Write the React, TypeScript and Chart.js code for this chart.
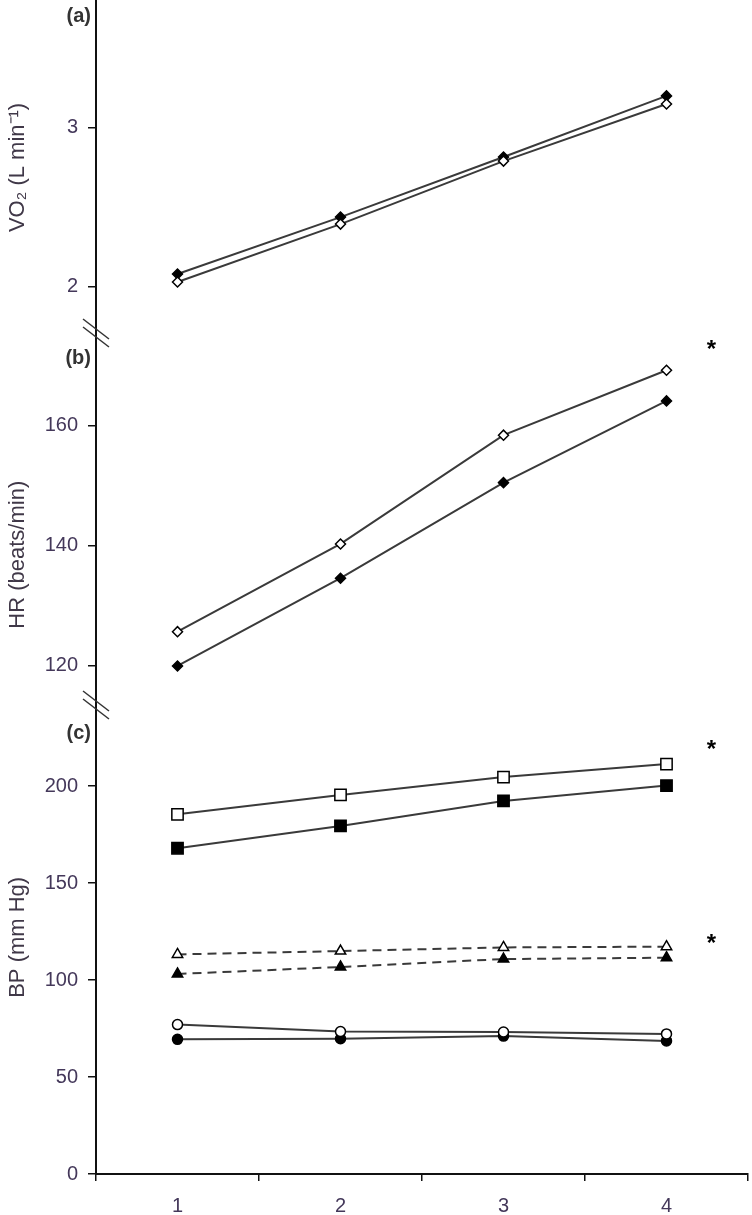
import React, { useEffect, useRef } from 'react';
import { Chart, registerables } from 'chart.js';

Chart.register(...registerables);

// ---- data ----
const stages = ['1', '2', '3', '4'];

const vo2Filled = [2.08, 2.438, 2.816, 3.2];
const vo2Open = [2.03, 2.394, 2.79, 3.149];

const hrFilled = [120, 134.6, 150.5, 164.1];
const hrOpen = [125.7, 140.3, 158.4, 169.2];

const sbpFilled = [167.9, 179.4, 192.3, 200.2];
const sbpOpen = [185.4, 195.4, 204.6, 211.3];
const mapFilled = [103.1, 106.7, 110.8, 111.5];
const mapOpen = [113.2, 114.9, 116.8, 117.2];
const dbpFilled = [69.4, 69.7, 71.1, 68.6];
const dbpOpen = [77.0, 73.4, 73.2, 72.2];

const vo2Ticks = [2, 3];
const hrTicks = [120, 140, 160];
const bpTicks = [0, 50, 100, 150, 200];

const vo2Range = [1.709, 3.803];
const hrRange = [113.5, 175.4];
const bpRange = [0, 241.75];

const panelLabels = ['(a)', '(b)', '(c)'];
const axisTitles = ['VO\u2082 (L min\u207B\u00B9)', 'HR (beats/min)', 'BP (mm Hg)'];
const axisTitleCenters = [2.75, 138.5, 122];
const starMarks = [
  { axis: 'yb', value: 173.8 },
  { axis: 'yc', value: 222 },
  { axis: 'yc', value: 122.3 },
];

const FONT = '"Liberation Sans", Arial, sans-serif';
const TICK_COLOR = '#44385a';
const TITLE_COLOR = '#403848';
const LINE_COLOR = '#3a3a3a';

function ds(label: string, data: number[], axis: string, style: string, radius: number, filled: boolean, dash: number[] = []) {
  return {
    label,
    data,
    yAxisID: axis,
    borderColor: LINE_COLOR,
    borderWidth: 2,
    borderDash: dash,
    tension: 0,
    fill: false,
    clip: false,
    pointStyle: style,
    pointRadius: radius,
    pointHoverRadius: radius,
    pointBackgroundColor: filled ? '#000' : '#fff',
    pointBorderColor: '#000',
    pointBorderWidth: 1.5,
  };
}

function yScale(range: number[], ticks: number[], weight: number) {
  return {
    type: 'linear',
    position: 'left',
    stack: 'panels',
    stackWeight: weight,
    min: range[0],
    max: range[1],
    border: { display: true, color: '#111', width: 2 },
    grid: { display: true, drawOnChartArea: false, drawTicks: true, tickLength: 8, color: '#111', lineWidth: 1.5 },
    ticks: { color: TICK_COLOR, font: { family: FONT, size: 20 }, padding: 10 },
    afterBuildTicks: (s: any) => {
      s.ticks = ticks.map((v) => ({ value: v }));
    },
    afterFit: (s: any) => {
      s.width = 96;
      s.paddingTop = 0;
      s.paddingBottom = 0;
    },
  };
}

const overlayPlugin = {
  id: 'overlay',
  afterDraw(chart: any) {
    const ctx = chart.ctx;
    const { x, ya, yb, yc } = chart.scales;
    const left = chart.chartArea.left;
    ctx.save();

    // axis break marks
    ctx.strokeStyle = '#333';
    ctx.lineWidth = 1.5;
    [yb.top, yc.top].forEach((yy: number) => {
      [-4, 4].forEach((d) => {
        ctx.beginPath();
        ctx.moveTo(left - 13, yy + d - 10);
        ctx.lineTo(left + 13, yy + d + 10);
        ctx.stroke();
      });
    });

    // panel labels
    ctx.fillStyle = '#333';
    ctx.font = `bold 20px ${FONT}`;
    ctx.textAlign = 'right';
    ctx.textBaseline = 'middle';
    const tops = [ya.top + 16, yb.top + 25, yc.top + 28];
    panelLabels.forEach((t, i) => ctx.fillText(t, left - 5, tops[i]));

    // axis titles
    ctx.fillStyle = TITLE_COLOR;
    ctx.font = `22px ${FONT}`;
    ctx.textAlign = 'center';
    ctx.textBaseline = 'alphabetic';
    const scs = [ya, yb, yc];
    axisTitles.forEach((t, i) => {
      const cy = scs[i].getPixelForValue(axisTitleCenters[i]);
      ctx.save();
      ctx.translate(24, cy);
      ctx.rotate(-Math.PI / 2);
      ctx.fillText(t, 0, 0);
      ctx.restore();
    });

    // significance stars
    ctx.fillStyle = '#000';
    ctx.font = `bold 24px ${FONT}`;
    ctx.textAlign = 'center';
    ctx.textBaseline = 'alphabetic';
    const sx = x.getPixelForValue(3) + 45;
    starMarks.forEach((s) => {
      const sy = chart.scales[s.axis].getPixelForValue(s.value);
      ctx.fillText('*', sx, sy + 14);
    });

    ctx.restore();
  },
};

export default function App() {
  const ref = useRef<HTMLCanvasElement | null>(null);

  useEffect(() => {
    if (!ref.current) return;
    const chart = new Chart(ref.current, {
      type: 'line',
      data: {
        labels: stages,
        datasets: [
          ds('VO2 open', vo2Open, 'ya', 'rectRot', 5, false),
          ds('VO2 filled', vo2Filled, 'ya', 'rectRot', 5, true),
          ds('HR open', hrOpen, 'yb', 'rectRot', 5, false),
          ds('HR filled', hrFilled, 'yb', 'rectRot', 5, true),
          ds('SBP open', sbpOpen, 'yc', 'rect', 8, false),
          ds('SBP filled', sbpFilled, 'yc', 'rect', 8, true),
          ds('MAP open', mapOpen, 'yc', 'triangle', 6, false, [9, 6]),
          ds('MAP filled', mapFilled, 'yc', 'triangle', 6, true, [9, 6]),
          ds('DBP open', dbpOpen, 'yc', 'circle', 5, false),
          ds('DBP filled', dbpFilled, 'yc', 'circle', 5, true),
        ] as any,
      },
      options: {
        animation: false,
        responsive: true,
        maintainAspectRatio: false,
        layout: { autoPadding: false, padding: { top: 0, right: 4, left: 0, bottom: 0 } },
        plugins: { legend: { display: false }, tooltip: { enabled: false } },
        scales: {
          x: {
            type: 'category',
            labels: stages,
            offset: true,
            border: { display: true, color: '#111', width: 2 },
            grid: { offset: true, drawOnChartArea: false, drawTicks: true, tickLength: 7, color: '#111', lineWidth: 1.5 },
            ticks: { color: TICK_COLOR, font: { family: FONT, size: 20 }, padding: 13, maxRotation: 0 },
            afterFit: (s: any) => {
              s.height = 41;
              s.paddingLeft = 0;
              s.paddingRight = 0;
            },
          },
          yc: yScale(bpRange, bpTicks, 469),
          yb: yScale(hrRange, hrTicks, 372),
          ya: yScale(vo2Range, vo2Ticks, 333),
        } as any,
      },
      plugins: [overlayPlugin],
    });
    return () => chart.destroy();
  }, []);

  return (
    <div style={{ position: 'absolute', left: 0, top: 0, width: 752, height: 1215, background: '#fff' }}>
      <canvas ref={ref} />
    </div>
  );
}
